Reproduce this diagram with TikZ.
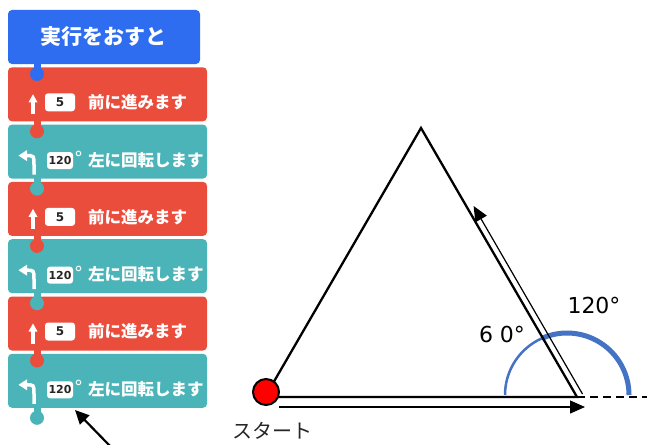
\documentclass[tikz,border=0pt]{standalone}
\usepackage{fontspec}
\setmainfont{DejaVu Sans}
\newfontfamily\jp{Noto Sans CJK JP}
\usetikzlibrary{arrows.meta}
\definecolor{hatblue}{HTML}{2F6DF0}
\definecolor{fwdred}{HTML}{EB4D3D}
\definecolor{turnteal}{HTML}{4BB4B8}
\definecolor{arcblue}{HTML}{4472C4}
\tikzset{
  cmd/.style={rounded corners=4pt, inner sep=0, minimum width=199pt, minimum height=54pt},
  valbox/.style={fill=white, rounded corners=3pt, inner sep=0, text=black!85, font=\bfseries\fontsize{11}{11}\selectfont},
  cmdtext/.style={anchor=west, inner sep=0, text=white, font=\jp\bfseries\fontsize{16.5}{16.5}\selectfont},
  icon/.style={white, line width=3.5pt},
  tri/.style={black, line width=2.3pt, line join=miter},
  movearrow/.style={black, line width=1.2pt, -{Triangle[length=15pt,width=13pt]}},
  anglabel/.style={inner sep=0, font=\fontsize{22}{22}\selectfont},
}
\newcommand\fwdblock[2]{%
  \node[cmd, fill=fwdred] (#1) at (107.5,#2+27) {};
  \fill[white] (28.5,#2+35) -- (33,#2+27) -- (37.5,#2+35) -- cycle;
  \draw[icon] (33,#2+34) -- (33,#2+47);
  \node[valbox, minimum width=30pt, minimum height=18pt, font=\bfseries\fontsize{12}{12}\selectfont] (#1v) at (60,#2+35) {5};
  \node[cmdtext] (#1t) at (88,#2+35) {前に進みます};
}
\newcommand\turnblock[2]{%
  \node[cmd, fill=turnteal] (#1) at (107.5,#2+27) {};
  \draw[icon] (34,#2+50) -- (34,#2+40) .. controls (34,#2+31) .. (26,#2+31);
  \fill[white] (27,#2+25.5) -- (18.5,#2+31) -- (27,#2+36.5) -- cycle;
  \node[valbox, minimum width=26pt, minimum height=17pt] (#1v) at (60,#2+36) {120};
  \node[anchor=base, inner sep=0, text=white, font=\fontsize{18}{18}\selectfont] (#1d) at (78.5,#2+40) {°};
  \node[cmdtext] (#1t) at (88,#2+35.5) {左に回転します};
}
\newcommand\blocknub[2]{%
  \fill[#1] (33.5,#2+53) rectangle (40.5,#2+64);
  \fill[#1] (37,#2+64) circle (7pt);
}
\begin{document}
\begin{tikzpicture}[x=1pt,y=-1pt]
\useasboundingbox (0,0) rectangle (647,444);
% --- block stack ---
\node[cmd, fill=hatblue, minimum width=192pt] (hat) at (104,37) {};
\node[inner sep=0, text=white, font=\jp\bfseries\fontsize{21}{21}\selectfont] (hatt) at (103.5,37) {実行をおすと};
\fwdblock{f1}{67.3}
\turnblock{r1}{124.6}
\fwdblock{f2}{181.9}
\turnblock{r2}{239.2}
\fwdblock{f3}{296.5}
\turnblock{r3}{353.8}
\blocknub{hatblue}{10}
\blocknub{fwdred}{67.3}
\blocknub{turnteal}{124.6}
\blocknub{fwdred}{181.9}
\blocknub{turnteal}{239.2}
\blocknub{fwdred}{296.5}
\blocknub{turnteal}{353.8}
% pointer arrow
\coordinate (ptail) at (110,446);
\coordinate (ptip) at (75,410);
\draw[black, line width=2.2pt, -{Triangle[length=14pt,width=13pt]}] (ptail) -- (ptip);
% --- triangle ---
\coordinate (A) at (265,397);
\coordinate (B) at (421,128);
\coordinate (C) at (577,397);
\coordinate (E) at (647,397);
\draw[arcblue, line width=2.5pt] (505,395) arc[start angle=-180, end angle=-114, radius=62];
\draw[arcblue, line width=5pt] (567,395) ++(-114:62) arc[start angle=-114, end angle=0, radius=62];
\draw[tri] (A) -- (B) -- (C) -- cycle;
\draw[black, line width=2pt, dash pattern=on 8pt off 5pt] (C) -- (E);
\coordinate (p1) at (279,407);
\coordinate (p2) at (585,407);
\draw[movearrow] (p1) -- (p2);
\coordinate (q1) at (582.5,394);
\coordinate (q2) at (473.6,206);
\draw[movearrow] (q1) -- (q2);
\node[circle, draw=black, line width=2pt, fill=red, minimum size=26pt, inner sep=0] (start) at (266,392) {};
\node[anchor=west, inner sep=0, text=black!85, font=\jp\fontsize{20}{20}\selectfont] (startlbl) at (232,431) {スタート};
\node[anglabel] (l120) at (594,305) {120°};
\node[anglabel] (l60) at (502,334) {6 0°};
\end{tikzpicture}
\end{document}
